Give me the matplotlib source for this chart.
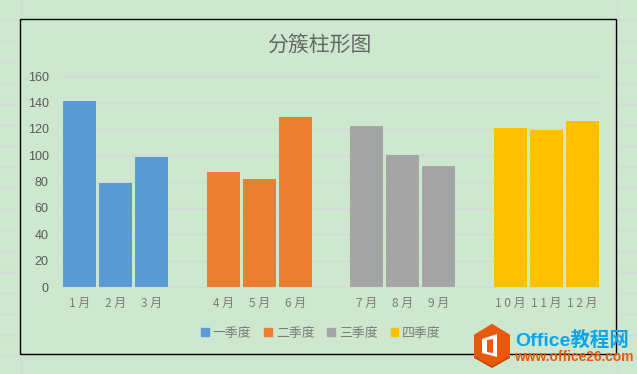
import matplotlib
matplotlib.use("Agg")
import matplotlib.pyplot as plt
from matplotlib.patches import Patch, Polygon, Rectangle

plt.rcParams['font.family'] = ['Noto Sans CJK SC', 'DejaVu Sans']

quarters = ["一季度", "二季度", "三季度", "四季度"]
months = [["1月", "2月", "3月"], ["4月", "5月", "6月"], ["7月", "8月", "9月"], ["10月", "11月", "12月"]]
values = [[141, 79, 99], [87, 82, 129], [122, 100, 92], [121, 119, 126]]
colors = ["#5B9BD5", "#ED7D31", "#A5A5A5", "#FFC000"]
yticks = [0, 20, 40, 60, 80, 100, 120, 140, 160]

W, H = 637, 374
bg = "#CDE8CF"
grid = "#D8D8D8"
text_col = "#595959"

fig = plt.figure(figsize=(W / 100, H / 100), dpi=100, facecolor=bg)

# sheet behind the chart, in pixels
sheet = fig.add_axes([0, 0, 1, 1], zorder=0)
sheet.set_xlim(0, W)
sheet.set_ylim(H, 0)
sheet.axis("off")
for y in range(19, H, 21):
    sheet.plot([0, W], [y + 0.5, y + 0.5], color=grid, lw=1)
for x in [20.5, 616.5]:
    sheet.plot([x, x], [0, H], color=grid, lw=1)
sheet.add_patch(Rectangle((20, 19), 596, 335, fc=bg, ec="black", lw=1, zorder=3))

# chart
ax = fig.add_axes([62 / W, 1 - 287 / H, 538 / W, 210.7 / H], zorder=1)
ax.patch.set_alpha(0)
pos = 0
ticks = []
labels = []
for i in range(len(quarters)):
    for j in range(len(months[i])):
        ax.bar(pos, values[i][j], width=0.92, color=colors[i], zorder=2)
        ticks.append(pos)
        labels.append(" ".join(months[i][j]))  # excel spaces these out
        pos += 1
    pos += 1  # empty slot between quarters

ax.set_xlim(-0.5, 14.5)
ax.set_ylim(0, 160)
ax.set_yticks(yticks)
ax.set_xticks(ticks)
ax.set_xticklabels(labels, fontsize=8.6, color="#7A7A7A")
ax.tick_params(axis="y", length=0, pad=9.5, labelsize=9, labelcolor=text_col)
ax.tick_params(axis="x", length=0, pad=7)
for t in ax.get_yticklabels():
    t.set_family(["Liberation Sans"])
ax.grid(axis="y", color=grid, lw=1, zorder=1)
ax.set_axisbelow(True)
for s in ax.spines.values():
    s.set_visible(False)
ax.spines["bottom"].set_visible(True)
ax.spines["bottom"].set_color(grid)

fig.text(319 / W, 1 - 46 / H, "分簇柱形图", fontsize=15, color="#666666", ha="center", va="center")

handles = [Patch(color=c, label=q) for c, q in zip(colors, quarters)]
fig.legend(handles=handles, loc="center", bbox_to_anchor=(321 / W, 1 - 333 / H), ncol=4, frameon=False,
           fontsize=9.3, labelcolor="#7A7A7A", handlelength=0.6, handleheight=0.6,
           handletextpad=0.3, columnspacing=1.0, borderpad=0)

# watermark
mark = fig.add_axes([0, 0, 1, 1], zorder=5)
mark.set_xlim(0, W)
mark.set_ylim(H, 0)
mark.axis("off")
mark.add_patch(Polygon([(492, 324), (510, 335), (510, 358), (492, 368), (474, 358), (474, 335)], fc="#C04A0A"))
mark.add_patch(Polygon([(492, 324), (510, 335), (510, 356), (492, 366), (474, 356), (474, 335)], fc="#E8590C"))
mark.add_patch(Polygon([(482, 339), (497, 334), (497, 357), (482, 353)], fc="white"))
mark.add_patch(Polygon([(487, 340), (493, 339), (493, 353), (487, 352)], fc="#E8590C"))
mark.text(515, 340, "Office教程网", fontsize=14, fontweight="bold", color="#0AA5EC", va="center",
          family=["Liberation Sans", "Noto Sans CJK SC"])
mark.text(514, 357, "www.office26.com", fontsize=9.9, fontweight="bold", color="#E8590C", va="center",
          family=["Liberation Sans"])

fig.savefig("out.png", dpi=100, facecolor=bg)
